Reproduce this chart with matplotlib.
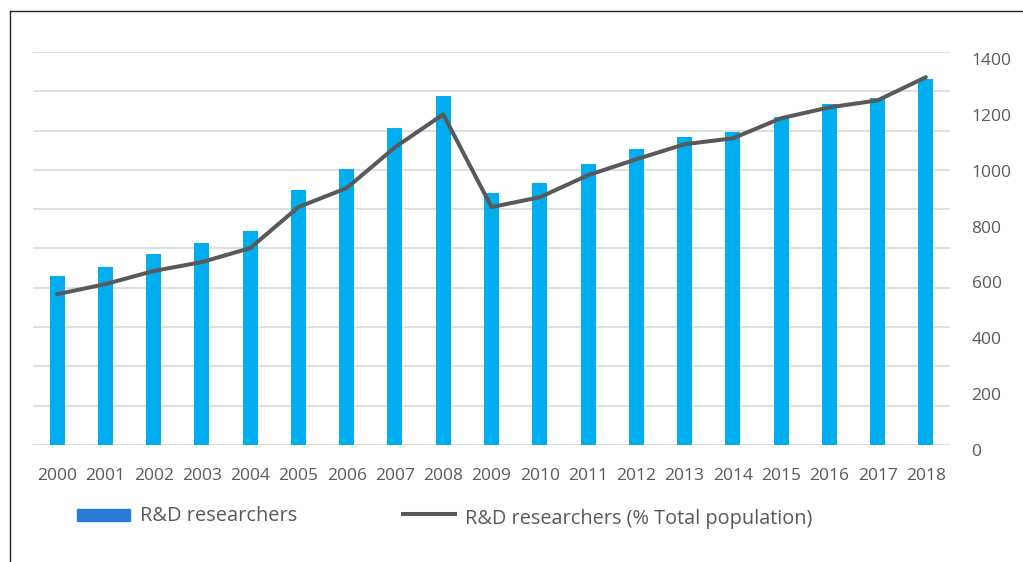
import matplotlib
matplotlib.use("Agg")
import matplotlib.pyplot as plt
import matplotlib.transforms as mtransforms
from matplotlib.lines import Line2D
from matplotlib.patches import Rectangle

years = [str(y) for y in range(2000, 2019)]
researchers = [4.30, 4.53, 4.86, 5.14, 5.45, 6.49, 7.02, 8.07, 8.88, 6.41,
               6.67, 7.15, 7.53, 7.84, 7.96, 8.35, 8.68, 8.83, 9.31]
researchers_pct = [540, 576, 623, 655, 705, 852, 920, 1066, 1184, 852,
                   887, 966, 1023, 1077, 1098, 1170, 1209, 1234, 1317]
right_ticks = [0, 200, 400, 600, 800, 1000, 1200, 1400]

bar_color = "#00aeef"
line_color = "#595959"
text_color = "#595959"
grid_color = "#d9d9d9"
font = ["Open Sans", "DejaVu Sans"]

W, H = 1023, 562
fig = plt.figure(figsize=(W / 100, H / 100), dpi=100)
fig.patch.set_facecolor("white")

ax = fig.add_axes([33 / W, 1 - 445 / H, (950 - 33) / W, (445 - 52) / H])
x = list(range(len(years)))
ax.bar(x, researchers, width=0.31, color=bar_color, zorder=2)
ax.set_xlim(-0.5, len(years) - 0.5)
ax.set_ylim(0, 10)
ax.set_yticks(range(0, 11))
ax.yaxis.grid(True, color=grid_color, linewidth=1.2, zorder=0)
ax.set_axisbelow(True)
ax.set_xticks(x)
ax.set_xticklabels(years, fontfamily=font, fontsize=12.5, color=text_color)
ax.tick_params(axis="x", bottom=False, pad=13)
for s in ax.spines.values():
    s.set_visible(False)

ax2 = ax.twinx()
ax2.plot(x, researchers_pct, color=line_color, linewidth=2.9, zorder=3,
         solid_capstyle="round", solid_joinstyle="round")
ax2.set_ylim(0, 1400 * (445 - 52) / (445 - 54))
ax2.set_yticks(right_ticks)
ax2.set_yticklabels([str(t) for t in right_ticks], fontfamily=font, fontsize=12.5,
                    color=text_color)
ax2.tick_params(axis="y", right=False, left=False, pad=12)
ax.tick_params(axis="y", left=False, right=False, labelleft=False, labelright=False)
offset = mtransforms.ScaledTranslation(0, -5 / 100, fig.dpi_scale_trans)
for lab in ax2.get_yticklabels():
    lab.set_transform(lab.get_transform() + offset)
for s in ax2.spines.values():
    s.set_visible(False)

# legend (manual placement)
fig.patches.append(Rectangle((77 / W, 1 - 521 / H), 53 / W, 12 / H,
                             transform=fig.transFigure, color="#2a7bd8",
                             figure=fig))
fig.text(140 / W, 1 - 516 / H, "R&D researchers", fontfamily=font, fontsize=14.4,
         color=text_color, va="center", ha="left")
fig.lines.append(Line2D([403 / W, 455 / W], [1 - 514 / H, 1 - 514 / H],
                        transform=fig.transFigure, color=line_color,
                        linewidth=2.9, figure=fig))
fig.text(465 / W, 1 - 519 / H, "R&D researchers (% Total population)",
         fontfamily=font, fontsize=14.3, color=text_color, va="center", ha="left")

# outer border (top and left visible)
fig.lines.append(Line2D([9.5 / W, 1.0], [1 - 10.5 / H, 1 - 10.5 / H],
                        transform=fig.transFigure, color="#222222",
                        linewidth=1.0, figure=fig))
fig.lines.append(Line2D([9.5 / W, 9.5 / W], [0, 1 - 10.5 / H],
                        transform=fig.transFigure, color="#222222",
                        linewidth=1.0, figure=fig))

fig.savefig("out.png", dpi=100)
